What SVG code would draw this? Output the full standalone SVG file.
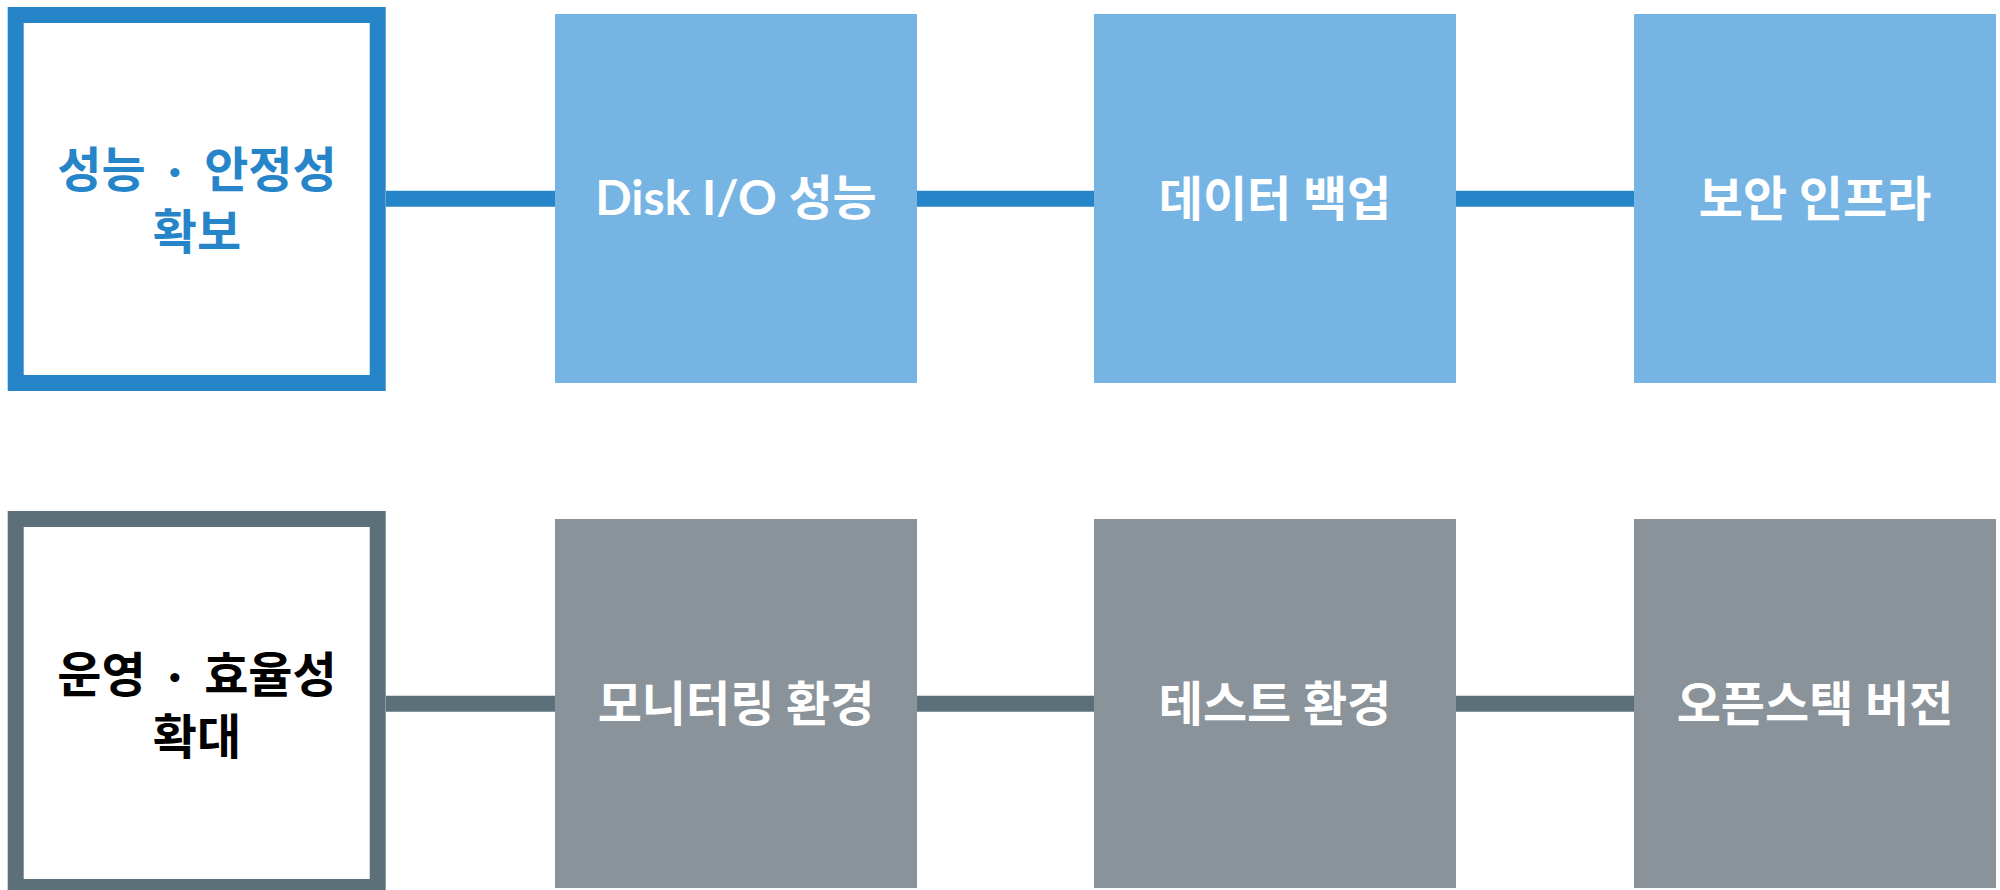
<svg xmlns="http://www.w3.org/2000/svg" width="2000" height="890" viewBox="0 0 2000 890">
  <style>
    .lbl { font-family: "Lato", "Noto Sans CJK KR", sans-serif; font-weight: bold; font-size: 48px; text-anchor: middle; }
    .white { fill: #ffffff; }
    .blueBox { fill: #76B4E4; }
    .grayBox { fill: #8B939A; }
    .blueLine { stroke: #2684C8; stroke-width: 16; fill: none; }
    .slateLine { stroke: #5C707A; stroke-width: 16; fill: none; }
  </style>
  <rect x="0" y="0" width="2000" height="890" fill="#ffffff"/>
  <g id="connectors">
    <line class="blueLine" x1="386" y1="198.7" x2="555" y2="198.7"/>
    <line class="blueLine" x1="917" y1="198.7" x2="1094" y2="198.7"/>
    <line class="blueLine" x1="1456" y1="198.7" x2="1634" y2="198.7"/>
    <line class="slateLine" x1="386" y1="703.7" x2="555" y2="703.7"/>
    <line class="slateLine" x1="917" y1="703.7" x2="1094" y2="703.7"/>
    <line class="slateLine" x1="1456" y1="703.7" x2="1634" y2="703.7"/>
  </g>
  <g id="node-perf">
    <rect x="15.7" y="15" width="362" height="368" fill="#ffffff" stroke="#2684C8" stroke-width="16"/>
    <text class="lbl" fill="#2684C8" word-spacing="11"><tspan x="197" y="187">성능 · 안정성</tspan><tspan x="197" y="249">확보</tspan></text>
  </g>
  <g id="node-disk">
    <rect class="blueBox" x="555" y="14" width="362" height="369"/>
    <text class="lbl white" x="736" y="215">Disk I/O 성능</text>
  </g>
  <g id="node-backup">
    <rect class="blueBox" x="1094" y="14" width="362" height="369"/>
    <text class="lbl white" x="1275" y="216">데이터 백업</text>
  </g>
  <g id="node-security">
    <rect class="blueBox" x="1634" y="14" width="362" height="369"/>
    <text class="lbl white" x="1815" y="216">보안 인프라</text>
  </g>
  <g id="node-ops">
    <rect x="15.7" y="519" width="362" height="368" fill="#ffffff" stroke="#5C707A" stroke-width="16"/>
    <text class="lbl" fill="#000000" word-spacing="11"><tspan x="197" y="692">운영 · 효율성</tspan><tspan x="197" y="754">확대</tspan></text>
  </g>
  <g id="node-monitor">
    <rect class="grayBox" x="555" y="519" width="362" height="369"/>
    <text class="lbl white" x="736" y="721">모니터링 환경</text>
  </g>
  <g id="node-test">
    <rect class="grayBox" x="1094" y="519" width="362" height="369"/>
    <text class="lbl white" x="1275" y="721">테스트 환경</text>
  </g>
  <g id="node-openstack">
    <rect class="grayBox" x="1634" y="519" width="362" height="369"/>
    <text class="lbl white" x="1815" y="721">오픈스택 버전</text>
  </g>
</svg>
